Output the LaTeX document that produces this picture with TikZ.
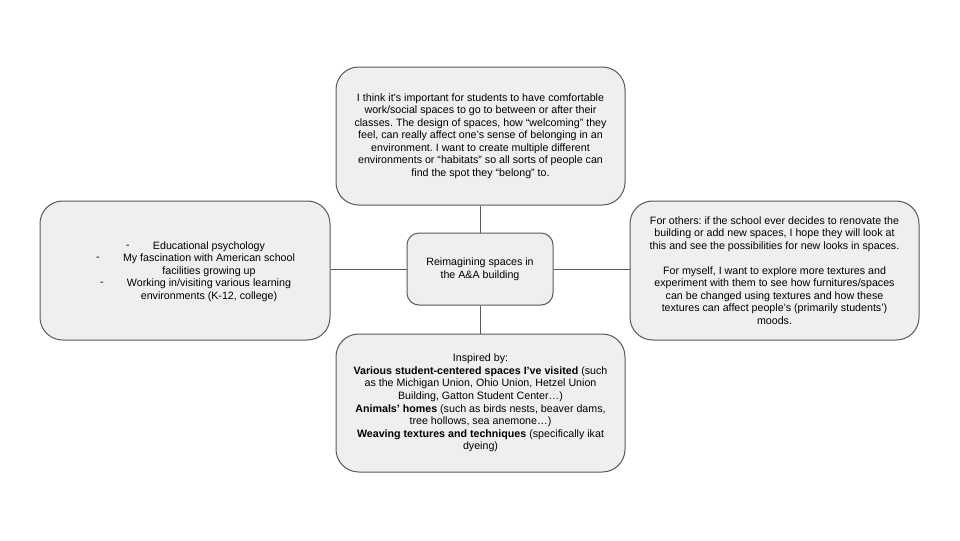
\documentclass[tikz,border=0pt]{standalone}
\usepackage{fontspec}
\setmainfont{Liberation Sans}
\frenchspacing
\definecolor{boxfill}{HTML}{EFEFEF}
\definecolor{boxline}{HTML}{595959}
\begin{document}
\begin{tikzpicture}[x=0.75pt,y=-0.75pt,
  box/.style={draw=boxline, fill=boxfill, rounded corners=17pt, line width=0.75pt, inner sep=0pt, align=center, font=\fontsize{8}{9.4}\selectfont},
  txt/.style={font=\fontsize{8}{9.4}\selectfont, align=center, inner sep=0pt},
  link/.style={draw=boxline, line width=0.75pt}]
\useasboundingbox (0,0) rectangle (960,540);
\fill[white] (0,0) rectangle (960,540);

\node[box, minimum width=216.75pt, minimum height=103.5pt] (top) at (480.5,136)
 {I think it’s important for students to have comfortable\\
  work/social spaces to go to between or after their\\
  classes. The design of spaces, how “welcoming” they\\
  feel, can really affect one’s sense of belonging in an\\
  environment. I want to create multiple different\\
  environments or “habitats” so all sorts of people can\\
  find the spot they “belong” to.};

\node[box, minimum width=217.5pt, minimum height=104.25pt] (left) at (185,270.5) {};
\node[txt] (lefttext) at (209,271.5)
 {Educational psychology\\
  My fascination with American school\\
  facilities growing up\\
  Working in/visiting various learning\\
  environments (K-12, college)};
\node[txt] (dash1) at (128,246.5) {-};
\node[txt] (dash2) at (98,259) {-};
\node[txt] (dash3) at (102,284) {-};

\node[box, minimum width=216.75pt, minimum height=104.25pt] (right) at (774.5,270.5)
 {For others: if the school ever decides to renovate the\\
  building or add new spaces, I hope they will look at\\
  this and see the possibilities for new looks in spaces.\\[9.4pt]
  For myself, I want to explore more textures and\\
  experiment with them to see how furnitures/spaces\\
  can be changed using textures and how these\\
  textures can affect people’s (primarily students’)\\
  moods.};

\node[box, minimum width=216.75pt, minimum height=103.5pt] (bottom) at (480.5,403)
 {Inspired by:\\
  \textbf{Various student-centered spaces I’ve visited} (such\\
  as the Michigan Union, Ohio Union, Hetzel Union\\
  Building, Gatton Student Center…)\\
  \textbf{Animals’ homes} (such as birds nests, beaver dams,\\
  tree hollows, sea anemone…)\\
  \textbf{Weaving textures and techniques} (specifically ikat\\
  dyeing)};

\node[box, rounded corners=9pt, minimum width=109.5pt, minimum height=54pt] (center) at (480,269)
 {Reimagining spaces in\\the A\&A building};

\draw[link] (top.south) -- (top.south |- center.north);
\draw[link] (center.south) -- (center.south |- bottom.north);
\draw[link] (left.east |- center.west) -- (center.west);
\draw[link] (center.east) -- (center.east -| right.west);
\end{tikzpicture}
\end{document}
